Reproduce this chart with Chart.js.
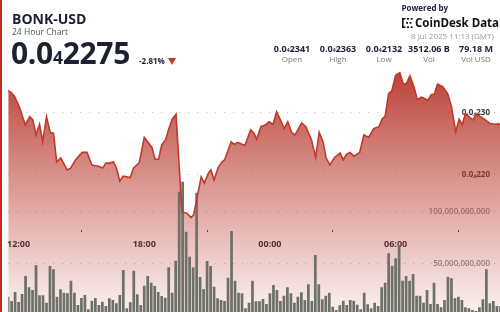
<!DOCTYPE html>
<html>
<head>
<meta charset="utf-8">
<script src="https://cdn.jsdelivr.net/npm/chart.js@4.4.1/dist/chart.umd.min.js"></script>
<style>
  html, body { margin: 0; padding: 0; background: #fff; }
  body { width: 500px; height: 312px; position: relative; overflow: hidden; font-family: "Open Sans", sans-serif; color: #1b2130; }
  #c { position: absolute; left: 0; top: 0; }
  .edge { position: absolute; left: 0; top: 0; width: 2px; height: 312px; background: #c62a1f; z-index: 5; }
  .t { position: absolute; white-space: nowrap; line-height: 1; z-index: 3; }
  .sub { font-size: 0.58em; }
  .col { position: absolute; width: 70px; text-align: center; white-space: nowrap; line-height: 1; z-index: 3; }
  .tri { position: absolute; left: 168px; top: 58px; width: 0; height: 0; border-left: 4.5px solid transparent; border-right: 4.5px solid transparent; border-top: 7px solid #c0392b; }
</style>
</head>
<body>
<canvas id="c" width="500" height="312"></canvas>
<div class="edge"></div>

<div class="t" style="left:12px; top:11.6px; font-size:14px; font-weight:700;">BONK-USD</div>
<div class="t" style="left:12px; top:27.5px; font-size:8.5px; color:#555;">24 Hour Chart</div>
<div class="t" style="left:11px; top:38.4px; font-size:30px; font-weight:700; letter-spacing:-0.3px;">0.0<span class="sub">4</span>2275</div>
<div class="t" style="left:139px; top:56.9px; font-size:8px; font-weight:700;">-2.81%</div>
<div class="tri"></div>

<div class="t" style="left:401.5px; top:3.9px; font-size:8px; font-weight:700;">Powered by</div>
<svg style="position:absolute; left:402px; top:18px;" width="11" height="10" viewBox="0 0 11 10">
  <path d="M0 0h3.5v1.6H1.6v6.8h1.9V10H0z" fill="#111"/>
  <rect x="5" y="0" width="2" height="1.6" fill="#111"/>
  <rect x="5" y="8.4" width="2" height="1.6" fill="#111"/>
  <rect x="8.6" y="0" width="2" height="1.6" fill="#111"/>
  <rect x="8.6" y="8.4" width="2" height="1.6" fill="#111"/>
  <rect x="4.2" y="4" width="1.8" height="1.8" fill="#111"/>
  <rect x="7.6" y="4" width="1.8" height="1.8" fill="#111"/>
</svg>
<div class="t" style="left:415px; top:16.5px; font-size:11.5px; font-weight:700; color:#111;">CoinDesk Data</div>
<div class="t" style="left:411px; top:31.9px; font-size:8px; color:#9a9a9a;">8 Jul 2025 11:13 (GMT)</div>

<div class="col" style="left:257px; top:44.3px; font-size:9px; font-weight:700;">0.0<span class="sub">4</span>2341</div>
<div class="col" style="left:303px; top:44.3px; font-size:9px; font-weight:700;">0.0<span class="sub">4</span>2363</div>
<div class="col" style="left:349px; top:44.3px; font-size:9px; font-weight:700;">0.0<span class="sub">4</span>2132</div>
<div class="col" style="left:394px; top:44.3px; font-size:9px; font-weight:700;">3512.06 B</div>
<div class="col" style="left:441px; top:44.3px; font-size:9px; font-weight:700;">79.18 M</div>
<div class="col" style="left:257px; top:55.4px; font-size:8px; color:#777;">Open</div>
<div class="col" style="left:303px; top:55.4px; font-size:8px; color:#777;">High</div>
<div class="col" style="left:349px; top:55.4px; font-size:8px; color:#777;">Low</div>
<div class="col" style="left:394px; top:55.4px; font-size:8px; color:#777;">Vol</div>
<div class="col" style="left:441px; top:55.4px; font-size:8px; color:#777;">Vol USD</div>

<script>
// price line: minutes after 12:00 (7 Jul) and price x 1e8 USD
const priceTimes = [-47, -20, -11, 3, 19, 32, 41, 50, 60, 69, 80, 91, 100, 109, 121, 139, 149, 163, 182, 196,
  210, 229, 241, 250, 261, 271, 280, 290, 299, 320, 329, 346, 360, 382, 391, 401, 410, 421, 430, 440,
  451, 468, 482, 494, 501, 510, 523, 532, 545, 551, 560, 571, 583, 590, 609, 618, 628, 648, 665, 675,
  682, 694, 708, 717, 729, 739, 750, 761, 771, 783, 792, 811, 823, 839, 851, 861, 872, 881, 892, 905,
  921, 930, 939, 949, 961, 977, 989, 1003, 1017, 1032, 1041, 1050, 1060, 1069, 1080, 1092, 1102, 1111, 1121, 1133,
  1142, 1154, 1163, 1172, 1182, 1191, 1200, 1215, 1229, 1240, 1252, 1262, 1271, 1280, 1292, 1302, 1311, 1323, 1337, 1351,
  1365, 1374, 1393];
const priceE8 = [2341, 2331, 2325, 2307, 2280, 2293, 2288, 2264, 2281, 2253, 2293, 2267, 2267, 2221, 2227, 2208, 2211, 2224, 2236, 2236,
  2216, 2214, 2211, 2219, 2219, 2221, 2212, 2190, 2198, 2196, 2211, 2220, 2260, 2244, 2225, 2225, 2248, 2256, 2273, 2289,
  2297, 2141, 2139, 2132, 2136, 2160, 2197, 2187, 2204, 2208, 2192, 2211, 2221, 2224, 2253, 2249, 2252, 2247, 2272, 2266,
  2257, 2277, 2280, 2285, 2281, 2301, 2288, 2274, 2285, 2267, 2264, 2283, 2277, 2256, 2228, 2268, 2253, 2227, 2216, 2228,
  2235, 2224, 2233, 2236, 2230, 2236, 2264, 2260, 2274, 2277, 2289, 2294, 2330, 2334, 2359, 2363, 2345, 2346, 2358, 2340,
  2320, 2324, 2322, 2319, 2328, 2329, 2345, 2341, 2330, 2309, 2269, 2289, 2280, 2298, 2292, 2288, 2297, 2293, 2288, 2282,
  2281, 2282, 2275];

// 10 minute volume bars, billions, first bar at 11:30
const volStart = -30;
const volStep = 10;
const volumes = [17.6, 13.5, 22.2, 12.5, 20.3, 37.7, 26.7, 24.1, 48.4, 19.0,
  19.0, 11.8, 47.4, 44.2, 17.6, 24.8, 21.5, 20.9, 33.1, 21.5,
  9.6, 16.4, 19.3, 5.4, 13.8, 16.4, 9.6, 12.8, 8.6, 16.1,
  14.4, 11.2, 19.3, 43.5, 6.4, 12.2, 42.8, 20.0, 9.6, 28.3,
  37.7, 31.2, 28.0, 22.2, 18.3, 16.7, 46.1, 21.5, 52.5, 119.4,
  129.1, 80.6, 56.4, 46.1, 118.4, 36.7, 25.1, 52.2, 47.4, 27.3,
  16.1, 14.4, 13.5, 36.0, 81.3, 33.1, 21.5, 20.9, 6.4, 11.8,
  33.1, 13.2, 13.2, 15.4, 10.6, 20.9, 29.0, 24.1, 13.5, 18.6,
  26.7, 20.9, 11.8, 17.6, 21.9, 14.4, 29.7, 13.5, 58.0, 29.7,
  15.1, 18.6, 21.5, 7.9, 4.7, 9.3, 13.8, 9.6, 14.4, 13.8,
  9.9, 5.4, 21.5, 10.3, 6.4, 11.8, 8.6, 26.7, 31.2, 59.7,
  47.7, 54.8, 67.7, 33.1, 37.7, 33.1, 39.6, 18.6, 18.6, 11.8,
  24.1, 10.6, 31.2, 10.6, 7.4, 14.4, 37.0, 35.5, 16.1, 17.6,
  14.4, 7.4, 6.4, 4.7, 3.8, 7.4, 15.1, 44.2, 11.2, 13.5,
  8.6, 8.6];

const timeTicks = [0, 360, 720, 1080];
const timeLabels = ['12:00', '18:00', '00:00', '06:00'];
const priceTicks = [2200, 2300];
const volTicks = [50e9, 100e9];

function priceLabel(v) {
  // 2300 -> 0.0₄230
  return '0.0\u2084' + Math.round(v / 10);
}

function areaFill(context) {
  const chart = context.chart;
  const a = chart.chartArea;
  if (!a) return null;
  const g = chart.ctx.createLinearGradient(0, a.top, 0, a.bottom);
  g.addColorStop(0, 'rgba(176,40,28,0.92)');
  g.addColorStop(1, 'rgba(190,60,50,0.08)');
  return g;
}

const gridDots = 'rgba(90,90,90,0.4)';

new Chart(document.getElementById('c'), {
  data: {
    datasets: [
      {
        type: 'line',
        data: priceTimes.map((t, i) => ({ x: t, y: priceE8[i] })),
        yAxisID: 'price',
        borderColor: '#c0392b',
        borderWidth: 1.6,
        pointRadius: 0,
        tension: 0,
        fill: 'start',
        backgroundColor: areaFill,
        order: 0
      },
      {
        type: 'bar',
        data: volumes.map((v, i) => ({ x: volStart + i * volStep, y: v * 1e9 })),
        yAxisID: 'vol',
        backgroundColor: '#6e7169',
        barPercentage: 0.78,
        categoryPercentage: 1,
        order: 1
      }
    ]
  },
  options: {
    responsive: false,
    animation: false,
    devicePixelRatio: 1,
    layout: { padding: { top: 60, left: 0, right: 0, bottom: 0 } },
    plugins: {
      legend: { display: false },
      tooltip: { enabled: false },
      filler: { drawTime: 'beforeDatasetsDraw' }
    },
    scales: {
      x: {
        type: 'linear',
        min: -29.6,
        max: 1379,
        offset: false,
        position: { vol: 82e9 },
        afterBuildTicks: s => { s.ticks = timeTicks.map(v => ({ value: v })); },
        afterFit: s => { s.height = 0; },
        ticks: {
          callback: v => timeLabels[timeTicks.indexOf(v)],
          font: { family: 'Open Sans', size: 9, weight: 'bold' },
          color: '#262b36',
          padding: 7,
          maxRotation: 0,
          autoSkip: false
        },
        grid: { drawOnChartArea: false, drawTicks: true, tickLength: 2, color: '#444' },
        border: { display: false }
      },
      price: {
        type: 'linear',
        position: 'right',
        min: 1981.5,
        max: 2383.4,
        afterBuildTicks: s => { s.ticks = priceTicks.map(v => ({ value: v })); },
        afterFit: s => { s.width = 0; },
        ticks: {
          mirror: true,
          padding: -10,
          callback: v => priceLabel(v),
          font: { family: 'Open Sans', size: 8, weight: 'bold' },
          color: '#3a3a3a'
        },
        grid: { color: gridDots, drawTicks: false },
        border: { display: false, dash: [1, 8] }
      },
      vol: {
        type: 'linear',
        position: 'right',
        min: 2.8e9,
        max: 247e9,
        afterBuildTicks: s => { s.ticks = volTicks.map(v => ({ value: v })); },
        afterFit: s => { s.width = 0; },
        ticks: {
          mirror: true,
          padding: -10,
          callback: v => v.toLocaleString('en-US'),
          font: { family: 'Open Sans', size: 8, weight: '600' },
          color: '#8c8c8c'
        },
        grid: { color: gridDots, drawTicks: false },
        border: { display: false, dash: [1, 8] }
      }
    }
  }
});
</script>
</body>
</html>
